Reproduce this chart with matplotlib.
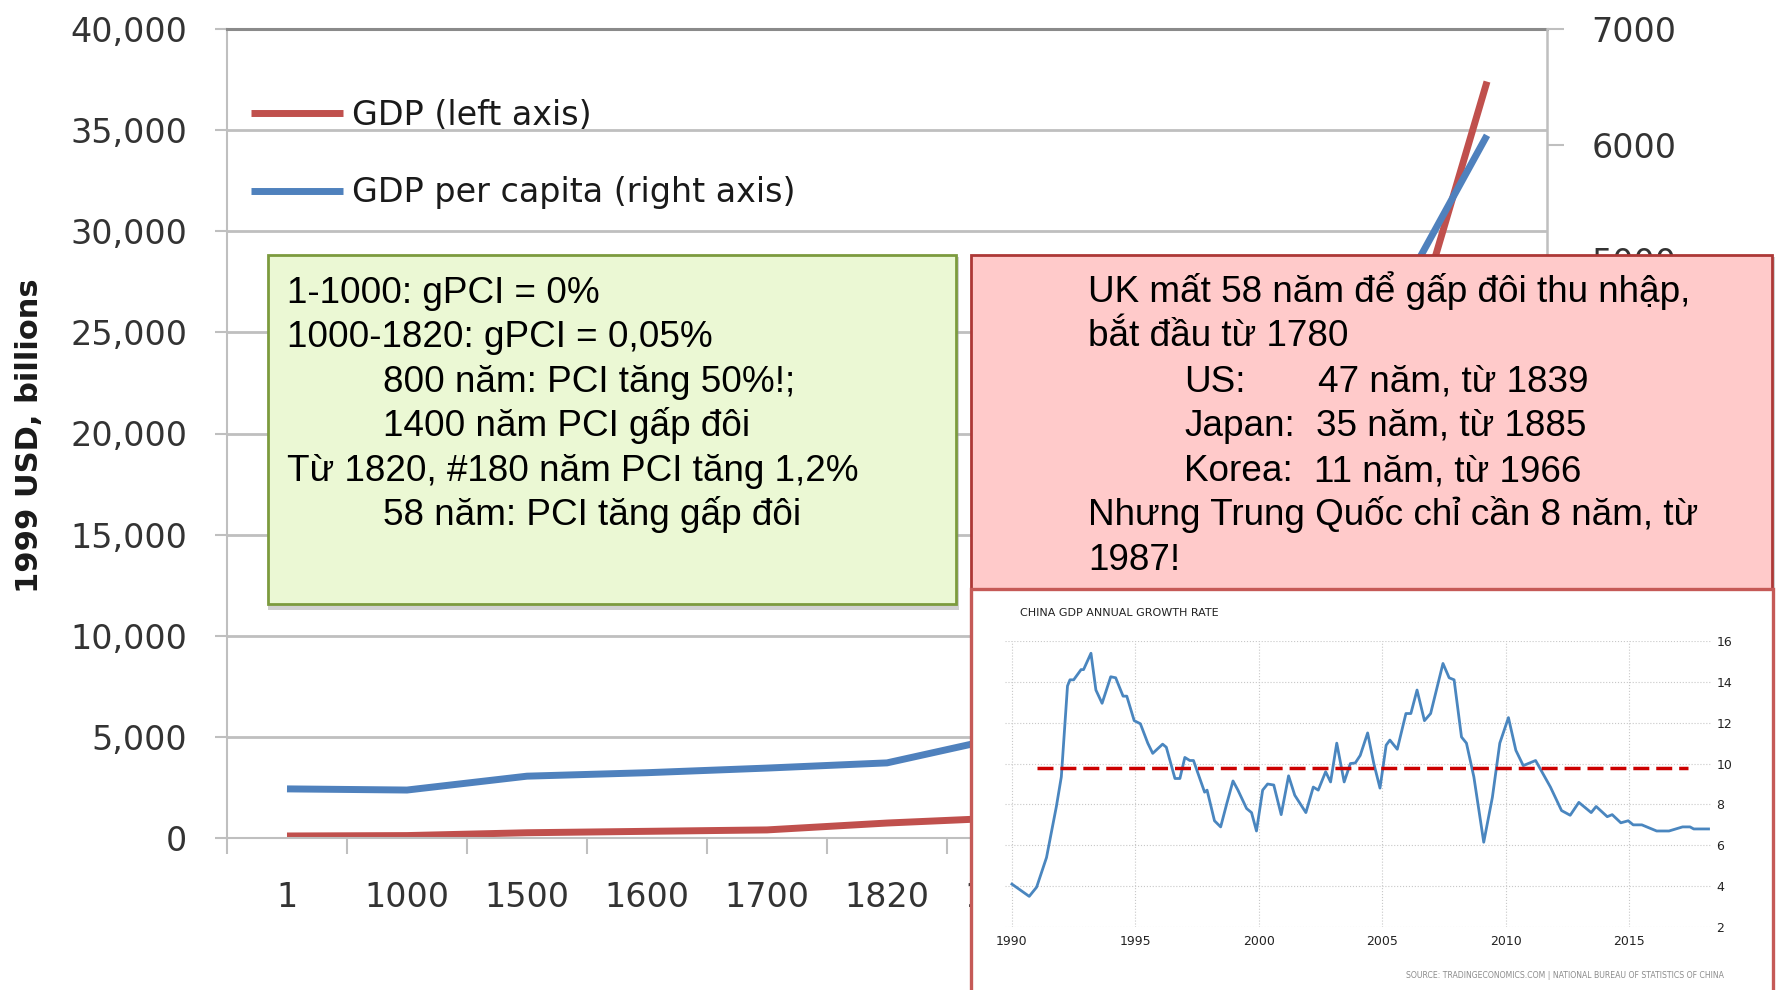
import numpy as np
import matplotlib
matplotlib.use('Agg')
import matplotlib.pyplot as plt
from matplotlib.patches import Rectangle
from matplotlib.ticker import FuncFormatter, MultipleLocator

W, H = 1777, 990

# world GDP (left axis, 1999 USD bn) and GDP per capita (right axis)
years = ['1', '1000', '1500', '1600', '1700', '1820', '1870', '1913', '1950', '1973', '1998']
gdp = [100, 120, 260, 330, 400, 740, 1000, 2900, 5900, 17300, 37400]
gdp_pc = [425, 415, 535, 565, 605, 650, 880, 1600, 2200, 4190, 6080]

# China GDP annual growth rate (%)
growth_year = [1990.0, 1990.7, 1991.0, 1991.4, 1991.8, 1992.0, 1992.25, 1992.35, 1992.5,
               1992.8, 1992.9, 1993.2, 1993.4, 1993.65, 1994.0, 1994.2, 1994.5, 1994.65,
               1994.95, 1995.2, 1995.5, 1995.7, 1996.1, 1996.25, 1996.6, 1996.8, 1997.0,
               1997.2, 1997.35, 1997.8, 1997.9, 1998.2, 1998.45, 1998.7, 1998.95, 1999.15,
               1999.5, 1999.7, 1999.9, 2000.15, 2000.35, 2000.6, 2000.9, 2001.2, 2001.45,
               2001.9, 2002.2, 2002.4, 2002.7, 2002.9, 2003.15, 2003.45, 2003.7, 2003.9,
               2004.1, 2004.4, 2004.65, 2004.9, 2005.15, 2005.3, 2005.6, 2005.95, 2006.15,
               2006.4, 2006.7, 2006.95, 2007.45, 2007.7, 2007.9, 2008.2, 2008.4, 2008.7,
               2009.1, 2009.45, 2009.75, 2010.1, 2010.4, 2010.7, 2011.2, 2011.8, 2012.25,
               2012.6, 2012.95, 2013.45, 2013.65, 2014.1, 2014.3, 2014.65, 2014.95, 2015.15,
               2015.5, 2016.1, 2016.6, 2017.15, 2017.45, 2017.6, 2018.2]
growth_rate = [4.1, 3.5, 3.95, 5.4, 7.9, 9.35, 13.8, 14.1, 14.1,
               14.6, 14.6, 15.4, 13.6, 12.95, 14.25, 14.2, 13.3, 13.3,
               12.1, 11.95, 11.0, 10.5, 10.95, 10.8, 9.27, 9.27, 10.3,
               10.15, 10.15, 8.6, 8.7, 7.2, 6.9, 8.05, 9.15, 8.7,
               7.8, 7.6, 6.7, 8.7, 9.0, 8.95, 7.5, 9.4, 8.45,
               7.6, 8.85, 8.7, 9.6, 9.1, 11.0, 9.1, 10.0, 10.03,
               10.4, 11.5, 10.0, 8.8, 10.9, 11.15, 10.7, 12.45, 12.45,
               13.6, 12.1, 12.45, 14.9, 14.2, 14.1, 11.3, 11.0, 9.35,
               6.15, 8.35, 11.0, 12.25, 10.65, 9.9, 10.15, 8.85, 7.7,
               7.47, 8.1, 7.6, 7.9, 7.4, 7.5, 7.1, 7.2, 7.0,
               7.0, 6.7, 6.7, 6.9, 6.9, 6.8, 6.8]
avg_growth = 9.8
avg_span = [1991.0, 2017.35]

green_lines = [
    (287, 303, '1-1000: gPCI = 0%'),
    (287, 347, '1000-1820: gPCI = 0,05%'),
    (383, 391.5, '800 năm: PCI tăng 50%!;'),
    (383, 436, '1400 năm PCI gấp đôi'),
    (287, 481, 'Từ 1820, #180 năm PCI tăng 1,2%'),
    (383, 525, '58 năm: PCI tăng gấp đôi'),
]
red_lines = [
    (1088, 302, 'UK mất 58 năm để gấp đôi thu nhập,'),
    (1088, 346, 'bắt đầu từ 1780'),
    (1184, 391.5, 'US:'), (1318, 391.5, '47 năm, từ 1839'),
    (1184, 436, 'Japan:'), (1316, 436, '35 năm, từ 1885'),
    (1184, 481, 'Korea:'), (1314, 481, '11 năm, từ 1966'),
    (1088, 525, 'Nhưng Trung Quốc chỉ cần 8 năm, từ'),
    (1088, 570.5, '1987!'),
]

plt.rcParams['font.family'] = ['DejaVu Sans']
fig = plt.figure(figsize=(W / 100, H / 100), dpi=100)
fig.patch.set_facecolor('white')

grid_c = '#bfbfbf'
txt_c = '#333333'

ax = fig.add_axes([227 / W, 1 - 838 / H, 1320 / W, 809 / H])
x = np.arange(len(years))
l1, = ax.plot(x, gdp, color='#c0504d', lw=5, solid_capstyle='butt', label='GDP (left axis)')
ax.set_xlim(-0.5, len(years) - 0.5)
ax.set_ylim(0, 40000)
ax.yaxis.set_major_locator(MultipleLocator(5000))
ax.yaxis.set_major_formatter(FuncFormatter(lambda v, p: f'{v:,.0f}'))
ax.grid(axis='y', color=grid_c, lw=2)
ax.set_axisbelow(True)
ax.set_xticks(np.arange(-0.5, len(years), 1))
ax.set_xticklabels([])
ax.set_xticks(x, minor=True)
ax.set_xticklabels(years, minor=True)
ax.tick_params(axis='x', which='major', length=11.5, width=1.5, color=grid_c)
ax.tick_params(axis='x', which='minor', length=0, pad=31, labelsize=24, labelcolor=txt_c)
ax.tick_params(axis='y', length=8.6, width=1.5, color=grid_c, pad=20, labelsize=24, labelcolor=txt_c)
for s in ['left', 'bottom']:
    ax.spines[s].set_color(grid_c)
    ax.spines[s].set_linewidth(1.5)
ax.spines['top'].set_color('#8a8a8a')
ax.spines['top'].set_linewidth(2.2)
ax.spines['right'].set_visible(False)

ax2 = ax.twinx()
l2, = ax2.plot(x, gdp_pc, color='#4f81bd', lw=5, solid_capstyle='butt', label='GDP per capita (right axis)')
ax2.set_ylim(0, 7000)
ax2.yaxis.set_major_locator(MultipleLocator(1000))
ax2.tick_params(axis='y', length=12, width=1.5, color=grid_c, pad=20, labelsize=24, labelcolor=txt_c)
for s in ['left', 'bottom', 'top']:
    ax2.spines[s].set_visible(False)
ax2.spines['right'].set_color(grid_c)
ax2.spines['right'].set_linewidth(1.8)

ax2.legend(handles=[l1, l2], loc='upper left', bbox_to_anchor=(221 / W, 1 - 69 / H),
           bbox_transform=fig.transFigure, frameon=False, fontsize=24,
           handlelength=2.75, handletextpad=0.27, labelspacing=1.33, labelcolor='#1a1a1a')

fig.text(30 / W, 1 - 436 / H, '1999 USD, billions', rotation=90, ha='center', va='center',
         fontsize=22, fontweight='bold', color='#1a1a1a')


def box(x0, y0, x1, y1, face, edge, lw, shadow=True):
    if shadow:
        fig.add_artist(Rectangle((x0 / W, 1 - (y1 + 6) / H), (x1 - x0 + 3) / W, (y1 - y0 + 4) / H,
                                 transform=fig.transFigure, facecolor='#9a9a9a', alpha=0.45,
                                 edgecolor='none', zorder=1))
    fig.add_artist(Rectangle((x0 / W, 1 - y1 / H), (x1 - x0) / W, (y1 - y0) / H,
                             transform=fig.transFigure, facecolor=face, edgecolor=edge,
                             lw=lw, zorder=2))


box(267.5, 255, 956, 603.5, '#ebf8d4', '#7c9b3e', 2)
box(971, 255, 1772, 589, '#ffcaca', '#ad3836', 2)
box(971, 589, 1773, 1010, 'white', '#c55a57', 2.4, shadow=False)

vfont = ['Liberation Sans', 'DejaVu Sans']
for px, py, s in green_lines + red_lines:
    fig.text(px / W, 1 - py / H, s, va='baseline', ha='left', fontsize=26.6,
             family=vfont, color='black', zorder=4)

# inset: China growth rate
ins = fig.add_axes([1005 / W, 1 - 927 / H, 706 / W, 286 / H], zorder=5)
ins.set_facecolor('none')
ins.plot(growth_year, growth_rate, color='#4a86bf', lw=2.0)
ins.plot(avg_span, [avg_growth, avg_growth], color='#cc0000', lw=2.5, dashes=(4.6, 2.0))
ins.set_xlim(1989.72, 2018.3)
ins.set_ylim(2, 16)
ins.set_xticks(range(1990, 2016, 5))
ins.set_yticks(range(2, 17, 2))
ins.yaxis.tick_right()
ins.grid(True, linestyle=':', color='#c8c8c8', lw=0.8)
ins.tick_params(length=0, labelsize=9, labelcolor='#222222')
ins.tick_params(axis='x', pad=6)
ins.tick_params(axis='y', pad=4)
for s in ins.spines.values():
    s.set_visible(False)

fig.text(1020 / W, 1 - 616 / H, 'CHINA GDP ANNUAL GROWTH RATE', fontsize=8, color='#222222',
         va='baseline', zorder=6)
fig.text(1724 / W, 1 - 978 / H, 'SOURCE: TRADINGECONOMICS.COM | NATIONAL BUREAU OF STATISTICS OF CHINA',
         fontsize=5.6, color='#8c8c8c', ha='right', va='baseline', zorder=6)

fig.savefig('out.png', dpi=100)
